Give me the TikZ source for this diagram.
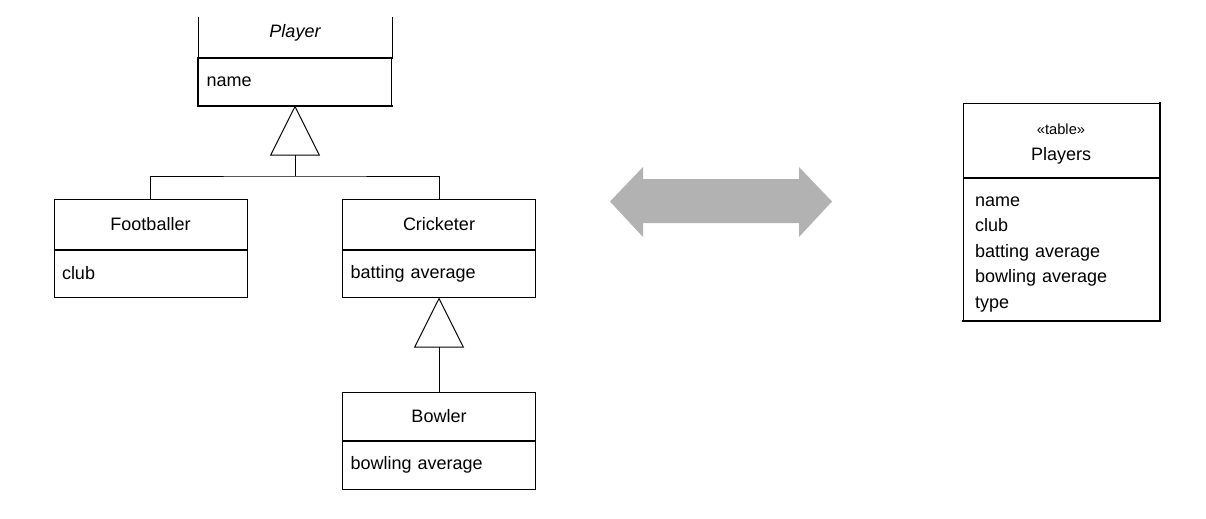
\documentclass[tikz,border=0pt]{standalone}
\usepackage{fontspec}
\setmainfont{Liberation Sans}
\usetikzlibrary{arrows.meta, positioning}
\newcommand{\umlfont}{\fontsize{13.5}{19}\selectfont}
\tikzset{
  classhead/.style={draw, line width=0.75pt, minimum width=144.75pt, minimum height=37.5pt,
                    inner sep=0pt, align=center, font=\umlfont},
  classattr/.style={draw, line width=0.75pt, text width=132.75pt, minimum height=35.25pt,
                    inner xsep=6pt, inner ysep=0pt, align=left, font=\umlfont},
  sepline/.style={line width=1.5pt},
  thickedge/.style={line width=1.5pt, line cap=rect},
  genline/.style={line width=0.75pt},
  genarrow/.style={genline, -{Triangle[open, length=37.5pt, width=37.5pt, line width=0.75pt]}},
  twoway/.style={fill=black!30}
}
\begin{document}
\begin{tikzpicture}[x=0.75pt, y=-0.75pt]
\useasboundingbox (0,0) rectangle (1206,518);

% --- Player (abstract, top cut off) ---
\node[classhead, draw=none, font=\umlfont\itshape] (phead) at (295,33) {Player};
\node[classattr, below=0pt of phead, yshift=0.75pt] (pattr) {name};
\draw[line width=0.75pt] (phead.south west) -- ++(0,-42);
\draw[line width=0.75pt] (phead.south east) -- ++(0,-42);
\draw[sepline] (pattr.north west) -- (pattr.north east);
\draw[thickedge] (pattr.north west) -- (pattr.south west) -- (pattr.south east);

% --- Footballer ---
\node[classhead] (fhead) at (150.5,224) {Footballer};
\node[classattr, below=0pt of fhead] (fattr) {club};
\draw[sepline] (fattr.north west) -- (fattr.north east);

% --- Cricketer ---
\node[classhead] (chead) at (439,224) {Cricketer};
\node[classattr, below=0pt of chead] (cattr) {batting average};
\draw[sepline] (cattr.north west) -- (cattr.north east);

% --- Bowler ---
\node[classhead, minimum height=36pt] (bhead) at (439,416) {Bowler};
\node[classattr, minimum height=36pt, below=0pt of bhead] (battr) {bowling average};
\draw[sepline] (battr.north west) -- (battr.north east);

% --- Generalisations ---
\coordinate (bus) at (295,176);
\draw[genline] (fhead.north) |- (bus) -| (chead.north);
\draw[genarrow] (bus) -- (pattr.south);
\draw[genarrow] (bhead.north) -- (cattr.south);

% --- Mapping arrow ---
\coordinate (mapl) at (610,201.5);
\fill[twoway] (mapl) -- (643,167) -- (643,179) -- (799,179) -- (799,167) -- (832,201.5)
  -- (799,237) -- (799,223) -- (643,223) -- (643,237) -- cycle;

% --- Players table ---
\node[classhead, minimum width=147pt, minimum height=55.5pt] (thead) at (1061,140)
  {{\fontsize{11}{14}\selectfont\rule{0pt}{14pt}«table»}\\[0pt]Players};
\node[classattr, text width=129pt, inner xsep=9pt, minimum height=106.5pt, below=0pt of thead,
      font=\fontsize{13.5}{19.1}\selectfont] (tattr)
  {\rule{0pt}{15pt}name\\club\\batting average\\bowling average\\type};
\draw[sepline] (tattr.north west) -- (tattr.north east);
\draw[thickedge] (tattr.south west) -- (tattr.south east) -- (thead.north east);

\end{tikzpicture}
\end{document}
